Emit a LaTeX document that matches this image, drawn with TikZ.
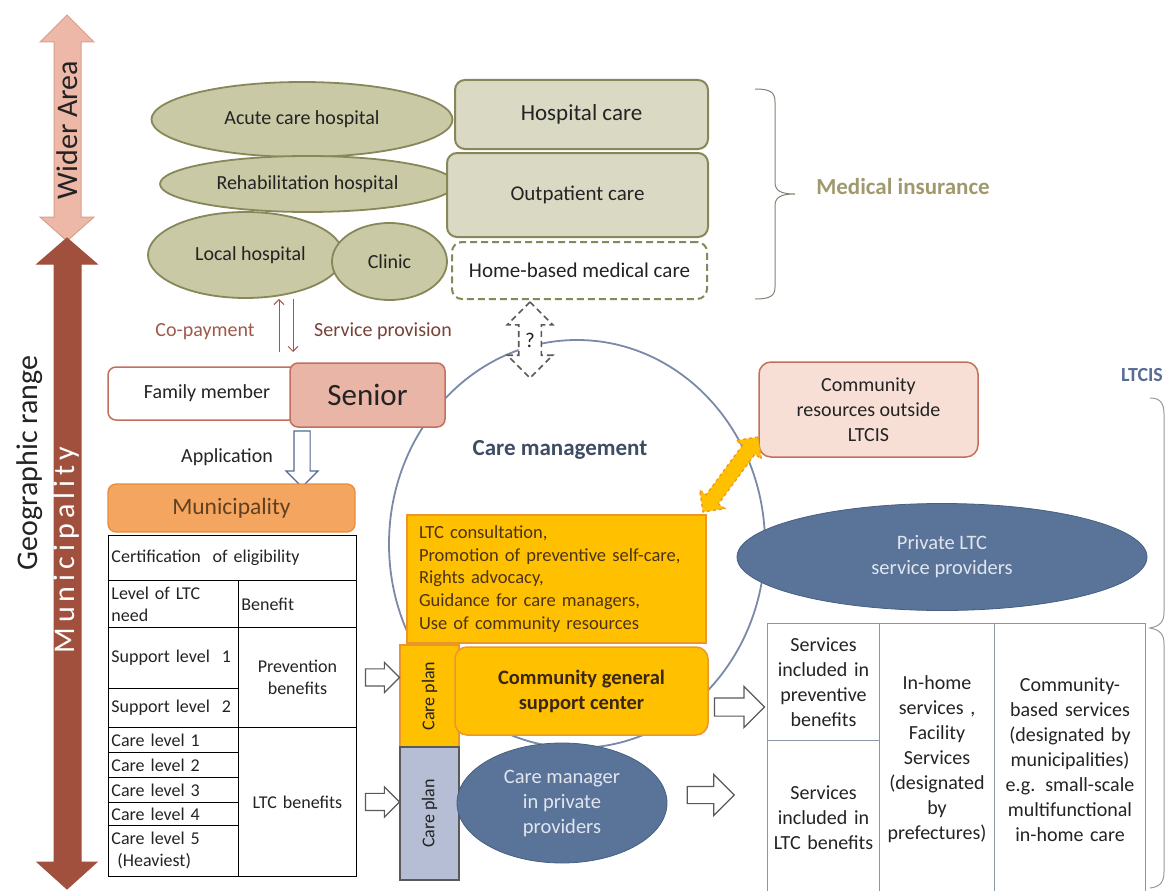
\documentclass[tikz,border=0pt]{standalone}
\usepackage{fontspec}
\setmainfont{Carlito}
\usetikzlibrary{positioning,calc,arrows.meta,shapes.geometric,shapes.arrows}

\definecolor{olivefill}{RGB}{201,201,166}
\definecolor{oliveline}{RGB}{135,135,90}
\definecolor{medfill}{RGB}{218,218,196}
\definecolor{medtext}{RGB}{160,153,110}
\definecolor{bracegray}{RGB}{135,128,115}
\definecolor{widerfill}{RGB}{237,184,167}
\definecolor{widerline}{RGB}{215,160,140}
\definecolor{munifill}{RGB}{161,80,62}
\definecolor{payred}{RGB}{160,88,72}
\definecolor{seniorfill}{RGB}{233,181,166}
\definecolor{seniorline}{RGB}{192,112,92}
\definecolor{resfill}{RGB}{247,223,214}
\definecolor{orangefill}{RGB}{244,166,96}
\definecolor{orangeline}{RGB}{232,140,60}
\definecolor{gold}{RGB}{255,192,0}
\definecolor{goldline}{RGB}{236,150,40}
\definecolor{steel}{RGB}{90,116,153}
\definecolor{steelline}{RGB}{70,95,130}
\definecolor{planblue}{RGB}{181,190,212}
\definecolor{circline}{RGB}{122,137,168}
\definecolor{ltcisblue}{RGB}{88,108,150}
\definecolor{cmtext}{RGB}{62,76,100}
\definecolor{tabline}{RGB}{140,150,165}
\definecolor{appblue}{RGB}{80,106,145}
\definecolor{darktext}{RGB}{35,35,35}
\definecolor{lighttext}{RGB}{225,230,238}

\begin{document}
\begin{tikzpicture}[x=1pt, y=-1pt,
    every node/.style={text=darktext},
    hosp/.style={ellipse, draw=oliveline, fill=olivefill, line width=1.8pt, inner sep=0pt, font=\fontsize{20}{23}\selectfont},
    medbox/.style={rounded corners=10pt, draw=oliveline, fill=medfill, line width=2pt, font=\fontsize{21}{24}\selectfont},
    lbl/.style={font=\fontsize{20}{23}\selectfont},
    cell/.style={draw=black, line width=0.9pt, anchor=north west, inner sep=3pt, font=\fontsize{18}{22}\selectfont},
    rcell/.style={draw=tabline, line width=1pt, anchor=north west, inner sep=2pt, align=center, font=\fontsize{20}{25}\selectfont},
    hollow/.style={single arrow, draw=gray!70!black, fill=white, line width=1.2pt, single arrow head indent=0pt, inner xsep=0pt},
    plan/.style={rotate=90, line width=1.2pt, font=\fontsize{18}{21}\selectfont},
    blob/.style={ellipse, fill=steel, draw=steelline, line width=0.8pt, text=lighttext, align=center, font=\fontsize{20.5}{25}\selectfont},
    payarrow/.style={draw=payred, line width=1pt, -{Straight Barb[length=5pt]}},
    bigtext/.style={rotate=90, font=\fontsize{30}{32}\selectfont}
]
\useasboundingbox (0,0) rectangle (1170,891);

% Care management circle, behind the rest
\node[ellipse, draw=circline, line width=1.8pt, minimum width=376pt, minimum height=408pt] (cm) at (577,544) {};
\node[font=\bfseries\fontsize{23}{26}\selectfont, text=cmtext] (cmlabel) at (560,450) {Care management};

% Geographic range
\draw[line width=1pt, draw=widerline, fill=widerfill] (67,15) -- (94,42) -- (81,42) -- (81,217) -- (94,217) -- (67,241) -- (40,217) -- (54,217) -- (54,42) -- (40,42) -- cycle;
\node[bigtext] (wider) at (67,130) {Wider Area};
\draw[line width=1pt, draw=munifill, fill=munifill] (67,238) -- (97,264) -- (81,264) -- (81,862) -- (97,862) -- (67,889) -- (37,862) -- (54,862) -- (54,264) -- (37,264) -- cycle;
\node[bigtext, text=white, font=\fontsize{30}{32}\selectfont\addfontfeature{LetterSpace=17}] (muni) at (67,550) {Municipality};
\node[bigtext] (geo) at (30,463) {Geographic range};

% Medical side
\node[hosp, minimum width=301pt, minimum height=75pt] (acute) at (302,119.5) {Acute care hospital};
\node[hosp, minimum width=295pt, minimum height=56pt] (rehab) at (307.5,184) {Rehabilitation hospital};
\node[hosp, minimum width=195pt, minimum height=86pt] (local) at (245.5,255) {\hspace*{10pt}Local hospital};
\node[hosp, minimum width=115pt, minimum height=77pt] (clinic) at (389.5,261.5) {Clinic};
\node[medbox, minimum width=253pt, minimum height=69pt, font=\fontsize{23}{26}\selectfont] (hospcare) at (581.5,114.5) {Hospital care};
\node[medbox, minimum width=261pt, minimum height=84pt] (outpat) at (577.5,195) {Outpatient care};
\node[medbox, fill=white, dash pattern=on 7pt off 4pt, minimum width=255pt, minimum height=57pt] (homecare) at (579.5,270.5) {Home-based medical care};
\draw[bracegray, line width=1pt] (755,89) .. controls (770,89) and (775,92) .. (775,102) -- (775,182) .. controls (775,191) and (781,194) .. (795,194) .. controls (781,194) and (775,197) .. (775,206) -- (775,287) .. controls (775,296) and (770,299) .. (755,299);
\node[font=\bfseries\fontsize{23}{26}\selectfont, text=medtext] (medins) at (903,187) {Medical insurance};

% Senior and family
\coordinate (copay) at (279,352);
\coordinate (provide) at (293,352);
\draw[payarrow] (copay) -- (copay |- local.south);
\draw[payarrow] (provide |- local.south) -- (provide);
\node[lbl, text=payred] (copaylbl) at (205,332) {Co-payment};
\node[lbl, text=payred!75!black] (provlbl) at (383,331) {Service provision};
\node[draw=seniorline, fill=white, rounded corners=8pt, line width=1.5pt, minimum width=192pt, minimum height=53pt, lbl] (family) at (204,393.5) {\hspace*{6pt}Family member};
\node[draw=seniorline, fill=seniorfill, rounded corners=8pt, line width=1.5pt, minimum width=155pt, minimum height=64pt, font=\fontsize{31}{33}\selectfont] (senior) at (367.5,395) {Senior};
\node[hollow, draw=appblue, rotate=-90, minimum height=56pt, minimum width=31pt, inner ysep=7.5pt, single arrow head extend=8pt] (apply) at (302,455) {};
\node[lbl] (applylbl) at (227,457) {Application};
\node[draw=orangeline, fill=orangefill, rounded corners=8pt, line width=1.3pt, minimum width=247pt, minimum height=48pt, font=\fontsize{23.5}{26}\selectfont, text=brown!50!black] (munibox) at (231.5,508) {Municipality};

% Eligibility table
\node[cell, minimum width=248pt, minimum height=45pt, text width=242pt, align=left] (cert) at (108,535) {Certification \ of eligibility};
\node[cell, minimum width=130pt, minimum height=47pt, text width=124pt, align=left] (need) at (108,580) {Level of LTC\\need};
\node[cell, minimum width=118pt, minimum height=47pt, text width=112pt, align=left] (benefit) at (238,580) {Benefit};
\node[cell, minimum width=130pt, minimum height=61pt, text width=124pt, align=left] (sup1) at (108,627) {Support level \ 1};
\node[cell, minimum width=130pt, minimum height=39pt, text width=124pt, align=left] (sup2) at (108,688) {Support level \ 2};
\node[cell, minimum width=118pt, minimum height=100pt, text width=112pt, align=center] (prevben) at (238,627) {Prevention\\benefits};
\node[cell, minimum width=130pt, minimum height=25pt, text width=124pt, align=left] (care1) at (108,727) {Care level 1};
\node[cell, minimum width=130pt, minimum height=25pt, text width=124pt, align=left] (care2) at (108,752) {Care level 2};
\node[cell, minimum width=130pt, minimum height=25pt, text width=124pt, align=left] (care3) at (108,777) {Care level 3};
\node[cell, minimum width=130pt, minimum height=23pt, text width=124pt, align=left] (care4) at (108,802) {Care level 4};
\node[cell, minimum width=130pt, minimum height=51pt, text width=124pt, align=left] (care5) at (108,825) {Care level 5\\\ (Heaviest)};
\node[cell, minimum width=118pt, minimum height=149pt, text width=112pt, align=center] (ltcben) at (238,727) {LTC benefits};

% Community general support center
\node[draw=goldline, fill=gold, line width=1.3pt, minimum width=299pt, minimum height=128pt, text width=275pt, align=left, font=\fontsize{18.5}{22.7}\selectfont, text=brown!40!black] (tasks) at (556.5,579) {LTC consultation,\\Promotion of preventive self-care,\\Rights advocacy,\\Guidance for care managers,\\Use of community resources};
\node[plan, draw=goldline, fill=gold, minimum width=102pt, minimum height=59pt] (plan1) at (429.5,696) {Care plan};
\node[plan, draw=gray!70!black, fill=planblue, minimum width=133pt, minimum height=59pt] (plan2) at (429.5,813.5) {Care plan};
\node[draw=goldline, fill=gold, rounded corners=12pt, line width=1.5pt, minimum width=253pt, minimum height=88pt, align=center, font=\bfseries\fontsize{20.5}{25}\selectfont, text=brown!30!black] (cgsc) at (581.5,691) {Community general\\support center};
\node[blob, minimum width=210pt, minimum height=120pt] (cmgr) at (562,803) {Care manager\\in private\\providers};
\node[hollow, minimum height=34pt, minimum width=29pt, inner ysep=8pt, single arrow head extend=6.5pt] (toplan1) at ($(prevben.east)!0.5!(prevben.east -| plan1.north)$) {};
\node[hollow, minimum height=34pt, minimum width=29pt, inner ysep=8pt, single arrow head extend=6.5pt] (toplan2) at ($(ltcben.east)!0.5!(ltcben.east -| plan2.north)$) {};

% Links upward and sideways
\node[double arrow, draw=gray!70!black, dash pattern=on 6pt off 4pt, fill=white, line width=1.6pt, rotate=90, minimum height=76pt, minimum width=44pt, inner ysep=10.5pt, inner xsep=0pt, double arrow head extend=11.5pt, double arrow head indent=0pt] (query) at (530,340) {};
\node[font=\fontsize{21}{23}\selectfont] (qmark) at (query.center) {?};
\node[draw=seniorline, fill=resfill, rounded corners=12pt, line width=1.5pt, minimum width=219pt, minimum height=95pt, align=center, font=\fontsize{20}{25}\selectfont] (commres) at (868.5,409.5) {Community\\resources outside\\LTCIS};
\node[double arrow, draw=goldline, dashed, fill=gold, line width=1.3pt, rotate=53.7, minimum height=93pt, minimum width=30pt, inner ysep=7pt, inner xsep=0pt, double arrow head extend=8pt, double arrow head indent=0pt] (link) at (730.5,474.5) {};
\node[blob, minimum width=410pt, minimum height=107pt] (private) at (942,557) {Private LTC\\service providers};

% Services table
\node[rcell, minimum width=112pt, minimum height=117pt, text width=108pt] (prevserv) at (767,623) {Services\\included in\\preventive\\benefits};
\node[rcell, minimum width=112pt, minimum height=155pt, text width=108pt] (ltcserv) at (767,740) {Services\\included in\\LTC benefits};
\node[rcell, minimum width=115pt, minimum height=272pt, text width=111pt] (homeserv) at (879,623) {In-home\\services ,\\Facility\\Services\\(designated\\by\\prefectures)};
\node[rcell, minimum width=151pt, minimum height=272pt, text width=147pt] (commserv) at (994,623) {Community-\\based services\\(designated by\\municipalities)\\e.g. small-scale\\multifunctional\\in-home care};
\node[hollow, minimum height=50pt, minimum width=40pt, inner ysep=8.5pt, single arrow head extend=11.5pt] (toserv1) at (735,707) {};
\node[hollow, minimum height=47pt, minimum width=40pt, inner ysep=8pt, single arrow head extend=12pt] (toserv2) at (706.5,795) {};

% LTCIS
\node[font=\bfseries\fontsize{20}{22}\selectfont, text=ltcisblue] (ltcis) at (1142,375) {LTCIS};
\draw[gray!80, line width=1pt] (1150,398) .. controls (1160,398) and (1164,403) .. (1164,414) -- (1164,612) .. controls (1164,622) and (1160,626) .. (1150,628) .. controls (1160,630) and (1164,634) .. (1164,644) -- (1164,872) .. controls (1164,882) and (1160,887) .. (1150,888);
\end{tikzpicture}
\end{document}
